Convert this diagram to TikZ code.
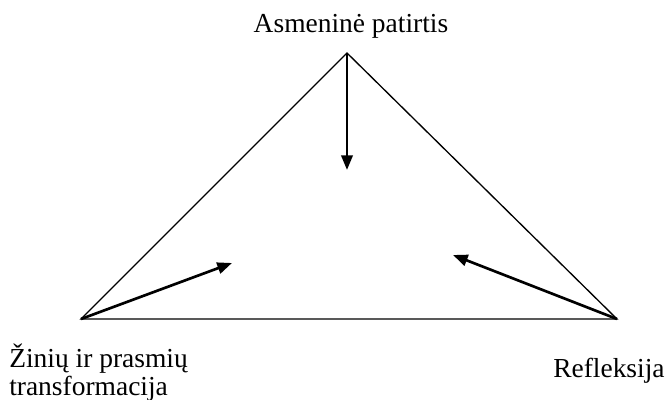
\documentclass[tikz,border=0pt]{standalone}
\usepackage{fontspec}
\setmainfont{Liberation Serif}
\usetikzlibrary{arrows.meta}

\begin{document}
\begin{tikzpicture}[x=0.75pt, y=-0.75pt,
  side/.style={line width=1pt},
  push/.style={line width=2pt, -{Triangle[length=11pt, width=8.5pt]}},
  every node/.style={inner sep=0pt, font=\fontsize{20.6}{21}\selectfont}]
  \useasboundingbox (0,0) rectangle (669,400);
  % corners of the triangle
  \coordinate (top) at (347,53);
  \coordinate (left) at (81,319);
  \coordinate (right) at (617,319);
  % where the arrows end
  \coordinate (topend) at (347,170);
  \coordinate (leftend) at (232,263);
  \coordinate (rightend) at (453,255);

  \draw[side] (left) -- (top) -- (right) -- cycle;
  \draw[push] (top) -- (topend);
  \draw[push] (left) -- (leftend);
  \draw[push] (right) -- (rightend);

  \node[anchor=base] (patirtis) at (351,32) {Asmeninė patirtis};
  \node[anchor=north west, align=left] (zinios) at (9,344)
    {Žinių ir prasmių\\transformacija};
  \node[anchor=base west] (refleksija) at (553,377) {Refleksija};
\end{tikzpicture}
\end{document}
